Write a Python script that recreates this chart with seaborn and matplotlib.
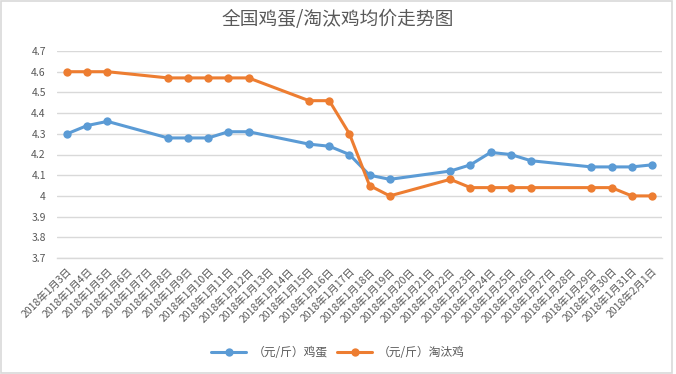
import numpy as np
import pandas as pd
import matplotlib
matplotlib.use("Agg")
import matplotlib.pyplot as plt
import seaborn as sns

# x axis categories: every day from 2018-01-03 to 2018-02-01
dates = [f"2018年1月{d}日" for d in range(3, 32)] + ["2018年2月1日"]

# days that actually have prices
price_days = ["2018年1月3日", "2018年1月4日", "2018年1月5日",
              "2018年1月8日", "2018年1月9日", "2018年1月10日", "2018年1月11日", "2018年1月12日",
              "2018年1月15日", "2018年1月16日", "2018年1月17日", "2018年1月18日", "2018年1月19日",
              "2018年1月22日", "2018年1月23日", "2018年1月24日", "2018年1月25日", "2018年1月26日",
              "2018年1月29日", "2018年1月30日", "2018年1月31日", "2018年2月1日"]
egg = [4.30, 4.34, 4.36,
       4.28, 4.28, 4.28, 4.31, 4.31,
       4.25, 4.24, 4.20, 4.10, 4.08,
       4.12, 4.15, 4.21, 4.20, 4.17,
       4.14, 4.14, 4.14, 4.15]
hen = [4.60, 4.60, 4.60,
       4.57, 4.57, 4.57, 4.57, 4.57,
       4.46, 4.46, 4.30, 4.05, 4.00,
       4.08, 4.04, 4.04, 4.04, 4.04,
       4.04, 4.04, 4.00, 4.00]
series_names = ["（元/斤）鸡蛋", "（元/斤）淘汰鸡"]
colors = ["#5B9BD5", "#ED7D31"]

sns.set_theme(style="white")
plt.rcParams['font.family'] = ['Noto Sans CJK SC', 'DejaVu Sans']
txt = "#595959"

pos = [dates.index(d) for d in price_days]
df = pd.DataFrame({
    "x": pos + pos,
    "price": egg + hen,
    "series": [series_names[0]] * len(pos) + [series_names[1]] * len(pos),
})

fig = plt.figure(figsize=(6.76, 3.74), dpi=100)
ax = fig.add_axes([57 / 676, 1 - 258 / 374, 605 / 676, 207 / 374])

sns.lineplot(data=df, x="x", y="price", hue="series", palette=colors,
             marker="o", markersize=6, markeredgewidth=0, linewidth=2.2,
             ax=ax, legend=True)

ax.set_xlim(-0.5, len(dates) - 0.5)
ax.set_ylim(3.7, 4.7)
ax.set_yticks(np.round(np.arange(3.7, 4.71, 0.1), 1))
ax.set_yticklabels([f"{v:g}" for v in np.round(np.arange(3.7, 4.71, 0.1), 1)])
ax.set_xticks(range(len(dates)))
ax.set_xticklabels(dates, rotation=45, ha="right", rotation_mode="anchor")
ax.set_xticks(np.arange(-0.5, len(dates), 1), minor=True)
ax.tick_params(axis="x", which="major", length=0, pad=6, labelsize=7.5, labelcolor=txt)
ax.tick_params(axis="x", which="minor", length=4, color="#D9D9D9", width=1)
ax.tick_params(axis="y", length=0, labelsize=7.5, labelcolor=txt, pad=8)
ax.set_xlabel("")
ax.set_ylabel("")
ax.yaxis.grid(True, color="#D9D9D9", linewidth=1)
ax.xaxis.grid(False)
for s in ["left", "right", "top"]:
    ax.spines[s].set_visible(False)
ax.spines["bottom"].set_color("#D9D9D9")
ax.spines["bottom"].set_linewidth(1)
ax.set_axisbelow(True)

fig.text(0.5, 1 - 20 / 374, "全国鸡蛋/淘汰鸡均价走势图", ha="center", va="center",
         fontsize=13.5, color=txt)

handles, labels = ax.get_legend_handles_labels()
ax.get_legend().remove()
fig.legend(handles, labels, loc="center", bbox_to_anchor=(0.5, 1 - 353 / 374),
           ncol=2, frameon=False, fontsize=8.5, labelcolor=txt,
           handlelength=3, columnspacing=0.8, handletextpad=0.5)

fig.patches.append(plt.Rectangle((0.001, 0.003), 0.993, 0.995, transform=fig.transFigure,
                                 fill=False, edgecolor="#D9D9D9", linewidth=1.2))

fig.savefig("out.png", dpi=100, facecolor="white")
